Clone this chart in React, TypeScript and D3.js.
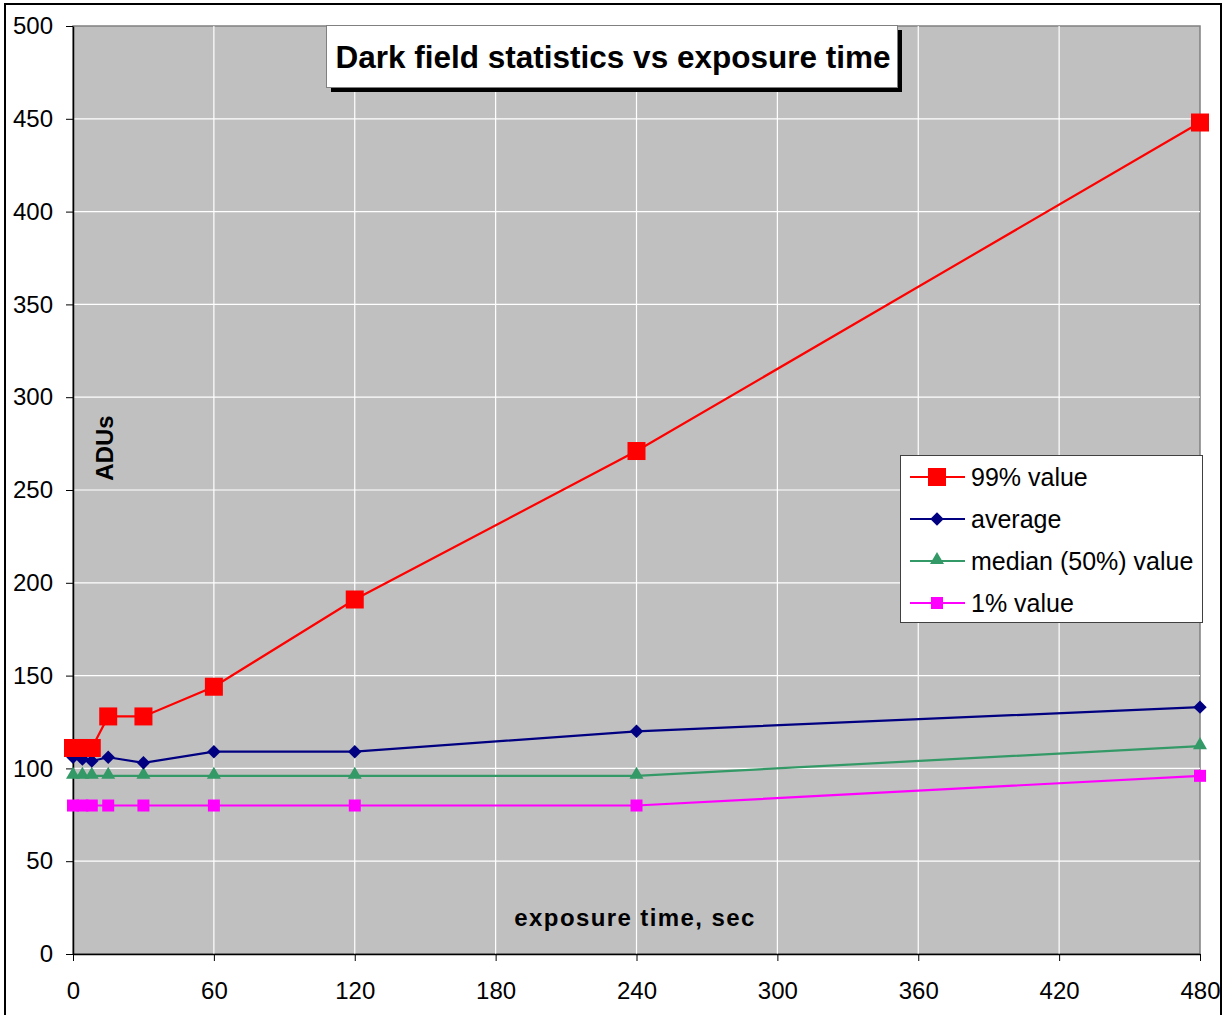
import * as d3 from 'd3';
import React, { useRef, useEffect } from 'react';

// exposure times (sec)
const times = [0, 4, 8, 15, 30, 60, 120, 240, 480];
const p99 = [111, 111, 111, 128, 128, 144, 191, 271, 448];
const average = [106, 105, 104, 106, 103, 109, 109, 120, 133];
const median = [96, 96, 96, 96, 96, 96, 96, 96, 112];
const p1 = [80, 80, 80, 80, 80, 80, 80, 80, 96];

const xTicks = [0, 60, 120, 180, 240, 300, 360, 420, 480];
const yTicks = [0, 50, 100, 150, 200, 250, 300, 350, 400, 450, 500];

const seriesNames = ['99% value', 'average', 'median (50%) value', '1% value'];
const seriesColors = ['#ff0000', '#000080', '#339966', '#ff00ff'];
const seriesShapes = ['bigSquare', 'diamond', 'triangle', 'square'];

const FONT = 'Liberation Sans, Arial, sans-serif';

function App() {
  const svgRef = useRef(null);

  useEffect(() => {
    const W = 1224,
      H = 1015;
    const margin = { top: 26, right: 24, bottom: 61, left: 73 };
    const width = W - margin.left - margin.right;
    const height = H - margin.top - margin.bottom;

    const root = d3.select(svgRef.current);
    root.selectAll('*').remove();
    root.attr('width', W).attr('height', H);

    // outer frame
    root
      .append('rect')
      .attr('x', 5)
      .attr('y', 4)
      .attr('width', 1216)
      .attr('height', 1030)
      .attr('fill', '#fff')
      .attr('stroke', '#000')
      .attr('stroke-width', 2);

    const svg = root.append('g').attr('transform', 'translate(' + margin.left + ',' + margin.top + ')');

    const x = d3.scaleLinear().domain([0, 480]).range([0, width]);
    const y = d3.scaleLinear().domain([0, 500]).range([height, 0]);

    // plot area
    svg
      .append('rect')
      .attr('width', width)
      .attr('height', height)
      .attr('fill', '#c0c0c0')
      .attr('stroke', '#808080')
      .attr('stroke-width', 1.5);

    // grid
    svg
      .append('g')
      .selectAll('line.v')
      .data(xTicks.slice(1, -1))
      .join('line')
      .attr('x1', (d) => x(d))
      .attr('x2', (d) => x(d))
      .attr('y1', 0)
      .attr('y2', height)
      .attr('stroke', '#fff')
      .attr('stroke-width', 1.2);
    svg
      .append('g')
      .selectAll('line.h')
      .data(yTicks.slice(1, -1))
      .join('line')
      .attr('x1', 0)
      .attr('x2', width)
      .attr('y1', (d) => y(d))
      .attr('y2', (d) => y(d))
      .attr('stroke', '#fff')
      .attr('stroke-width', 1.2);

    // axes
    const xAxis = svg
      .append('g')
      .attr('transform', 'translate(0,' + height + ')')
      .call(d3.axisBottom(x).tickValues(xTicks).tickSize(7).tickPadding(21).tickSizeOuter(0));
    const yAxis = svg
      .append('g')
      .call(d3.axisLeft(y).tickValues(yTicks).tickSize(7).tickPadding(13).tickSizeOuter(0));
    [xAxis, yAxis].forEach((a) => {
      a.selectAll('path').attr('stroke', '#000').attr('stroke-width', 1.5);
      a.selectAll('line').attr('stroke', '#000');
      a.selectAll('text').attr('font-family', FONT).attr('font-size', 24).attr('fill', '#000');
    });

    // axis titles
    svg
      .append('text')
      .attr('transform', 'translate(' + (104 - margin.left) + ',' + (448 - margin.top) + ') rotate(-90)')
      .attr('text-anchor', 'middle')
      .attr('dominant-baseline', 'central')
      .attr('font-family', FONT)
      .attr('font-weight', 'bold')
      .attr('font-size', 24)
      .text('ADUs');
    svg
      .append('text')
      .attr('x', 635 - margin.left)
      .attr('y', 917 - margin.top)
      .attr('text-anchor', 'middle')
      .attr('dominant-baseline', 'central')
      .attr('font-family', FONT)
      .attr('font-weight', 'bold')
      .attr('font-size', 24)
      .attr('letter-spacing', 1.4)
      .text('exposure time, sec');

    const allSeries = [p99, average, median, p1];

    const marker = (g, shape, color, cx, cy) => {
      if (shape === 'bigSquare') {
        g.append('rect').attr('x', cx - 9).attr('y', cy - 9).attr('width', 18).attr('height', 18).attr('fill', color);
      } else if (shape === 'square') {
        g.append('rect').attr('x', cx - 6).attr('y', cy - 6).attr('width', 12).attr('height', 12).attr('fill', color);
      } else if (shape === 'diamond') {
        g.append('path')
          .attr('d', d3.symbol().type(d3.symbolDiamond2).size(115)())
          .attr('transform', 'translate(' + cx + ',' + cy + ')')
          .attr('fill', color);
      } else {
        g.append('path')
          .attr('d', d3.symbol().type(d3.symbolTriangle2).size(140)())
          .attr('transform', 'translate(' + cx + ',' + (cy - 1) + ')')
          .attr('fill', color);
      }
    };

    const line = d3
      .line()
      .x((d) => x(d[0]))
      .y((d) => y(d[1]));

    // draw bottom series first
    [3, 2, 1, 0].forEach((i) => {
      const pts = times.map((t, j) => [t, allSeries[i][j]]);
      const g = svg.append('g');
      g.append('path')
        .datum(pts)
        .attr('fill', 'none')
        .attr('stroke', seriesColors[i])
        .attr('stroke-width', 2.2)
        .attr('d', line);
      pts.forEach((p) => marker(g, seriesShapes[i], seriesColors[i], x(p[0]), y(p[1])));
    });

    // title box
    root
      .append('rect')
      .attr('x', 331)
      .attr('y', 30)
      .attr('width', 571)
      .attr('height', 62)
      .attr('fill', '#000');
    root
      .append('rect')
      .attr('x', 326.5)
      .attr('y', 25.5)
      .attr('width', 571)
      .attr('height', 62)
      .attr('fill', '#fff')
      .attr('stroke', '#808080')
      .attr('stroke-width', 1);
    root
      .append('text')
      .attr('x', 613)
      .attr('y', 57)
      .attr('text-anchor', 'middle')
      .attr('dominant-baseline', 'central')
      .attr('font-family', FONT)
      .attr('font-weight', 'bold')
      .attr('font-size', 31.5)
      .text('Dark field statistics vs exposure time');

    // legend
    const lg = root.append('g');
    lg.append('rect')
      .attr('x', 900.5)
      .attr('y', 455.5)
      .attr('width', 302)
      .attr('height', 167)
      .attr('fill', '#fff')
      .attr('stroke', '#404040')
      .attr('stroke-width', 1);
    seriesNames.forEach((name, i) => {
      const cy = 477 + i * 42;
      lg.append('line')
        .attr('x1', 910)
        .attr('x2', 965)
        .attr('y1', cy)
        .attr('y2', cy)
        .attr('stroke', seriesColors[i])
        .attr('stroke-width', 2);
      marker(lg, seriesShapes[i], seriesColors[i], 937, cy);
      lg.append('text')
        .attr('x', 971)
        .attr('y', cy)
        .attr('dominant-baseline', 'central')
        .attr('font-family', FONT)
        .attr('font-size', 25)
        .text(name);
    });
  }, []);

  return (
    <>
      <svg ref={svgRef} style={{ position: 'absolute', left: 0, top: 0 }}></svg>
    </>
  );
}

export default App;
